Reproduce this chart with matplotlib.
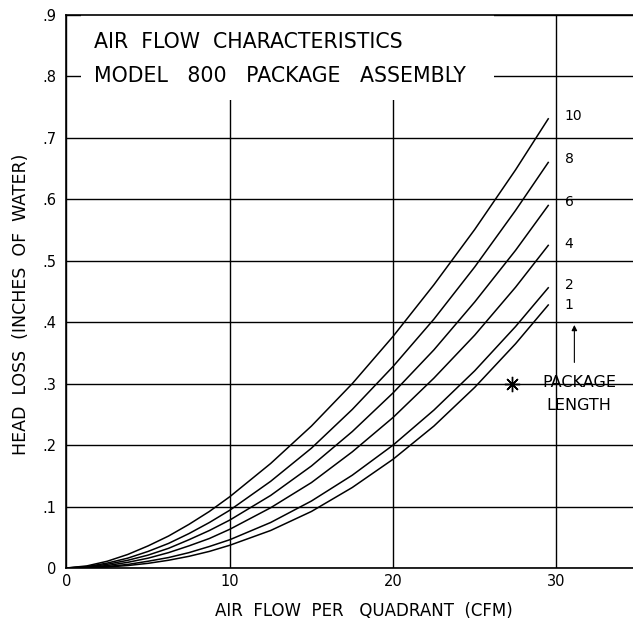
import matplotlib
matplotlib.use('Agg')
import matplotlib.pyplot as plt
from matplotlib.patches import Rectangle

plt.rcParams['font.family'] = ['DejaVu Sans']

# air flow per quadrant (CFM)
flow = [0, 1.25, 2.5, 3.75, 5, 6.25, 7.5, 8.75, 10, 12.5, 15, 17.5, 20, 22.5, 25, 27.5, 29.5]

# head loss (inches of water) for each package length
loss = {
    '10': [0, 0.0034, 0.011, 0.022, 0.036, 0.052, 0.071, 0.092, 0.116, 0.170, 0.231, 0.300, 0.377, 0.461, 0.551, 0.648, 0.731],
    '8':  [0, 0.0022, 0.008, 0.016, 0.027, 0.040, 0.056, 0.074, 0.094, 0.141, 0.195, 0.258, 0.328, 0.405, 0.490, 0.582, 0.660],
    '6':  [0, 0.0016, 0.006, 0.0125, 0.021, 0.032, 0.046, 0.061, 0.078, 0.118, 0.166, 0.222, 0.285, 0.355, 0.433, 0.517, 0.590],
    '4':  [0, 0.0011, 0.004, 0.0092, 0.016, 0.025, 0.036, 0.048, 0.063, 0.098, 0.139, 0.189, 0.245, 0.309, 0.379, 0.457, 0.525],
    '2':  [0, 0.0006, 0.0024, 0.0058, 0.011, 0.017, 0.025, 0.035, 0.046, 0.074, 0.109, 0.151, 0.200, 0.257, 0.321, 0.393, 0.456],
    '1':  [0, 0.0003, 0.0016, 0.004, 0.0076, 0.0126, 0.019, 0.027, 0.037, 0.061, 0.092, 0.131, 0.177, 0.231, 0.294, 0.365, 0.428],
}
label_y = {'10': 0.735, '8': 0.665, '6': 0.595, '4': 0.528, '2': 0.46, '1': 0.428}

xticks = [0, 10, 20, 30]
xticklabels = ['0', '10', '20', '30']
yticks = [0, .1, .2, .3, .4, .5, .6, .7, .8, .9]
yticklabels = ['0', '.1', '.2', '.3', '.4', '.5', '.6', '.7', '.8', '.9']

fig = plt.figure(figsize=(6.33, 6.19), dpi=100)
ax = fig.add_axes([0.105, 0.0824, 0.903, 0.8934])

for name, vals in loss.items():
    ax.plot(flow, vals, color='black', lw=1.1, zorder=3)
    ax.text(30.5, label_y[name], name, fontsize=10, ha='left', va='center')

ax.set_xlim(0, 35)
ax.set_ylim(0, 0.9)
ax.set_xticks(xticks)
ax.set_xticklabels(xticklabels, fontsize=10.5)
ax.set_yticks(yticks)
ax.set_yticklabels(yticklabels, fontsize=10.5)
ax.tick_params(axis='x', length=0, pad=4)
ax.tick_params(axis='y', length=0, pad=7)

ax.set_axisbelow(True)
ax.grid(True, color='black', lw=1.0)
ax.spines['right'].set_visible(False)
for s in ['left', 'top', 'bottom']:
    ax.spines[s].set_linewidth(1.2)

# blank area behind the title
ax.add_patch(Rectangle((0.9, 0.762), 25.3, 0.2, facecolor='white', edgecolor='none', zorder=1))
ax.text(1.7, 0.856, 'AIR  FLOW  CHARACTERISTICS', fontsize=14.8, va='center', zorder=4)
ax.text(1.7, 0.8, 'MODEL   800   PACKAGE   ASSEMBLY', fontsize=14.8, va='center', zorder=4)

# package length marker
ax.plot([27.3], [0.30], marker=(8, 2, 0), ms=11, color='black', mew=1.0, zorder=4)
ax.text(31.4, 0.302, 'PACKAGE', fontsize=11.5, ha='center', va='center')
ax.text(31.4, 0.265, 'LENGTH', fontsize=11.5, ha='center', va='center')
ax.annotate('', xy=(31.1, 0.40), xytext=(31.1, 0.33),
            arrowprops=dict(arrowstyle='-|>', color='black', lw=0.8, mutation_scale=8))

ax.set_xlabel('AIR  FLOW  PER   QUADRANT  (CFM)', fontsize=12, va='center')
ax.xaxis.set_label_coords(0.52, -0.078)
ax.set_ylabel('HEAD  LOSS  (INCHES  OF  WATER)', fontsize=12.5, va='center')
ax.yaxis.set_label_coords(-0.08, 0.476)

fig.savefig('out.png', dpi=100)
